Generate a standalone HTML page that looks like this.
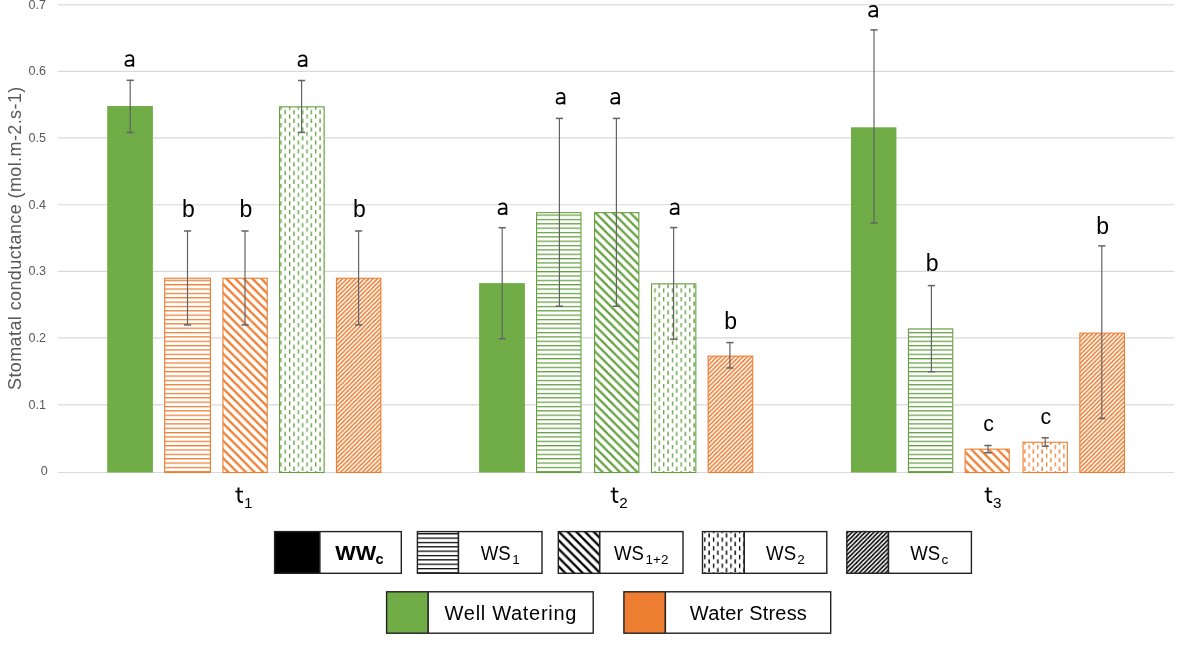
<!DOCTYPE html>
<html><head><meta charset="utf-8"><style>html,body{margin:0;padding:0;background:#fff;width:1181px;height:647px;overflow:hidden;position:relative;font-family:"Liberation Sans",sans-serif}</style></head><body>
<svg width="1181" height="647" viewBox="0 0 1181 647" style="position:absolute;left:0;top:0;will-change:transform">
<defs><pattern id="hzG" patternUnits="userSpaceOnUse" width="4" height="4" patternTransform="translate(0,1.35) scale(1.0875)"><rect x="0" y="-0.1" width="4" height="1.25" fill="#64A040"/></pattern><pattern id="wdG" patternUnits="userSpaceOnUse" width="8" height="8" patternTransform="translate(0,1.7) scale(1.0875)"><polygon points="0,0 3,0 8,5 8,8" fill="#64A040"/><polygon points="0,5 3,8 0,8" fill="#64A040"/></pattern><pattern id="dvG" patternUnits="userSpaceOnUse" width="8" height="8" patternTransform="translate(1.9,1.2) scale(1.0875)"><rect x="-0.1" y="0" width="1.3" height="4" fill="#64A040"/><rect x="3.9" y="4" width="1.3" height="4" fill="#64A040"/></pattern><pattern id="duG" patternUnits="userSpaceOnUse" width="4" height="4" patternTransform="translate(0,-1.8) scale(1.0875)"><polygon points="0,0 2,0 0,2" fill="#64A040"/><polygon points="4,0 4,2 2,4 0,4" fill="#64A040"/></pattern><pattern id="hzO" patternUnits="userSpaceOnUse" width="4" height="4" patternTransform="translate(0,1.35) scale(1.0875)"><rect x="0" y="-0.1" width="4" height="1.25" fill="#ED7D31"/></pattern><pattern id="wdO" patternUnits="userSpaceOnUse" width="8" height="8" patternTransform="translate(0,1.7) scale(1.0875)"><polygon points="0,0 3,0 8,5 8,8" fill="#ED7D31"/><polygon points="0,5 3,8 0,8" fill="#ED7D31"/></pattern><pattern id="dvO" patternUnits="userSpaceOnUse" width="8" height="8" patternTransform="translate(1.9,1.2) scale(1.0875)"><rect x="-0.1" y="0" width="1.3" height="4" fill="#ED7D31"/><rect x="3.9" y="4" width="1.3" height="4" fill="#ED7D31"/></pattern><pattern id="duO" patternUnits="userSpaceOnUse" width="4" height="4" patternTransform="translate(0,-1.8) scale(1.0875)"><polygon points="0,0 2,0 0,2" fill="#ED7D31"/><polygon points="4,0 4,2 2,4 0,4" fill="#ED7D31"/></pattern><pattern id="hzK" patternUnits="userSpaceOnUse" width="4" height="4" patternTransform="translate(0,-1.9) scale(1.0875)"><rect x="0" y="-0.1" width="4" height="1.25" fill="#000"/></pattern><pattern id="wdK" patternUnits="userSpaceOnUse" width="8" height="8" patternTransform="translate(0,0.6) scale(1.0875)"><polygon points="0,0 3,0 8,5 8,8" fill="#000"/><polygon points="0,5 3,8 0,8" fill="#000"/></pattern><pattern id="dvK" patternUnits="userSpaceOnUse" width="8" height="8" patternTransform="translate(-0.5,-1.9) scale(1.0875)"><rect x="-0.1" y="0" width="1.3" height="4" fill="#000"/><rect x="3.9" y="4" width="1.3" height="4" fill="#000"/></pattern><pattern id="duK" patternUnits="userSpaceOnUse" width="4" height="4" patternTransform="translate(0,0) scale(1.0875)"><polygon points="0,0 2,0 0,2" fill="#000"/><polygon points="4,0 4,2 2,4 0,4" fill="#000"/></pattern></defs>
<rect x="0" y="0" width="1181" height="647" fill="#fff"/>
<line x1="58" x2="1174" y1="472.50" y2="472.50" stroke="#D9D9D9" stroke-width="1.15"/>
<line x1="58" x2="1174" y1="404.90" y2="404.90" stroke="#D9D9D9" stroke-width="1.15"/>
<line x1="58" x2="1174" y1="337.90" y2="337.90" stroke="#D9D9D9" stroke-width="1.15"/>
<line x1="58" x2="1174" y1="271.40" y2="271.40" stroke="#D9D9D9" stroke-width="1.15"/>
<line x1="58" x2="1174" y1="204.70" y2="204.70" stroke="#D9D9D9" stroke-width="1.15"/>
<line x1="58" x2="1174" y1="137.90" y2="137.90" stroke="#D9D9D9" stroke-width="1.15"/>
<line x1="58" x2="1174" y1="71.40" y2="71.40" stroke="#D9D9D9" stroke-width="1.15"/>
<line x1="58" x2="1174" y1="4.80" y2="4.80" stroke="#D9D9D9" stroke-width="1.15"/>
<text x="47.8" y="475.10" text-anchor="end" font-family="Liberation Sans" font-size="12.6" fill="#595959">0</text>
<text x="46.0" y="408.80" text-anchor="end" font-family="Liberation Sans" font-size="12.6" fill="#595959">0.1</text>
<text x="46.0" y="341.80" text-anchor="end" font-family="Liberation Sans" font-size="12.6" fill="#595959">0.2</text>
<text x="46.0" y="275.30" text-anchor="end" font-family="Liberation Sans" font-size="12.6" fill="#595959">0.3</text>
<text x="46.0" y="208.60" text-anchor="end" font-family="Liberation Sans" font-size="12.6" fill="#595959">0.4</text>
<text x="46.0" y="141.80" text-anchor="end" font-family="Liberation Sans" font-size="12.6" fill="#595959">0.5</text>
<text x="46.0" y="75.30" text-anchor="end" font-family="Liberation Sans" font-size="12.6" fill="#595959">0.6</text>
<text x="46.0" y="8.70" text-anchor="end" font-family="Liberation Sans" font-size="12.6" fill="#595959">0.7</text>
<text transform="translate(21,390) rotate(-90)" x="0" y="0" font-family="Liberation Sans" font-size="18" letter-spacing="0.4" fill="#595959">Stomatal conductance (mol.m-2.s-1)</text>
<rect x="107.2" y="106.0" width="45.70" height="366.50" fill="#70AD47"/>
<rect x="164.1" y="277.7" width="46.90" height="194.80" fill="#fff"/>
<rect x="164.65" y="278.25" width="45.80" height="194.25" fill="url(#hzO)" stroke="#ED7D31" stroke-width="1.1"/>
<rect x="222.4" y="277.7" width="45.40" height="194.80" fill="#fff"/>
<rect x="222.95" y="278.25" width="44.30" height="194.25" fill="url(#wdO)" stroke="#ED7D31" stroke-width="1.1"/>
<rect x="279.0" y="106.3" width="45.70" height="366.20" fill="#fff"/>
<rect x="279.55" y="106.85" width="44.60" height="365.65" fill="url(#dvG)" stroke="#64A040" stroke-width="1.1"/>
<rect x="335.9" y="277.7" width="45.50" height="194.80" fill="#fff"/>
<rect x="336.45" y="278.25" width="44.40" height="194.25" fill="url(#duO)" stroke="#ED7D31" stroke-width="1.1"/>
<rect x="479.1" y="283.1" width="45.80" height="189.40" fill="#70AD47"/>
<rect x="536.0" y="212.1" width="45.50" height="260.40" fill="#fff"/>
<rect x="536.55" y="212.65" width="44.40" height="259.85" fill="url(#hzG)" stroke="#64A040" stroke-width="1.1"/>
<rect x="594.0" y="212.1" width="45.40" height="260.40" fill="#fff"/>
<rect x="594.55" y="212.65" width="44.30" height="259.85" fill="url(#wdG)" stroke="#64A040" stroke-width="1.1"/>
<rect x="651.0" y="283.3" width="45.40" height="189.20" fill="#fff"/>
<rect x="651.55" y="283.85" width="44.30" height="188.65" fill="url(#dvG)" stroke="#64A040" stroke-width="1.1"/>
<rect x="707.6" y="355.6" width="45.70" height="116.90" fill="#fff"/>
<rect x="708.15" y="356.15" width="44.60" height="116.35" fill="url(#duO)" stroke="#ED7D31" stroke-width="1.1"/>
<rect x="851.0" y="127.3" width="45.40" height="345.20" fill="#70AD47"/>
<rect x="907.9" y="328.4" width="45.40" height="144.10" fill="#fff"/>
<rect x="908.45" y="328.95" width="44.30" height="143.55" fill="url(#hzG)" stroke="#64A040" stroke-width="1.1"/>
<rect x="964.6" y="448.6" width="45.20" height="23.90" fill="#fff"/>
<rect x="965.15" y="449.15" width="44.10" height="23.35" fill="url(#wdO)" stroke="#ED7D31" stroke-width="1.1"/>
<rect x="1022.5" y="441.7" width="45.40" height="30.80" fill="#fff"/>
<rect x="1023.05" y="442.25" width="44.30" height="30.25" fill="url(#dvO)" stroke="#ED7D31" stroke-width="1.1"/>
<rect x="1079.3" y="332.6" width="45.70" height="139.90" fill="#fff"/>
<rect x="1079.85" y="333.15" width="44.60" height="139.35" fill="url(#duO)" stroke="#ED7D31" stroke-width="1.1"/>
<line x1="130.2" x2="130.2" y1="80.3" y2="132.5" stroke="#636363" stroke-width="1.2"/>
<line x1="126.60" x2="133.80" y1="80.3" y2="80.3" stroke="#636363" stroke-width="1.5"/>
<line x1="126.60" x2="133.80" y1="132.5" y2="132.5" stroke="#636363" stroke-width="1.5"/>
<path transform="translate(124.50,54.30)" d="M1.2 2.3 Q2.6 0.9 5.0 0.9 C7.7 0.9 8.8 2.2 8.8 4.7 V12.5 M8.8 6.2 H5.3 C2.1 6.2 0.9 7.6 0.9 9.2 C0.9 10.9 2.1 11.6 4.0 11.6 C6.0 11.6 7.7 10.8 8.8 9.4" fill="none" stroke="#000" stroke-width="1.75"/>
<line x1="187.5" x2="187.5" y1="231.0" y2="324.9" stroke="#636363" stroke-width="1.2"/>
<line x1="183.90" x2="191.10" y1="231.0" y2="231.0" stroke="#636363" stroke-width="1.5"/>
<line x1="183.90" x2="191.10" y1="324.9" y2="324.9" stroke="#636363" stroke-width="1.5"/>
<text x="188.30" y="217.20" text-anchor="middle" font-family="Liberation Sans" font-size="23" fill="#000">b</text>
<line x1="245.0" x2="245.0" y1="231.0" y2="324.9" stroke="#636363" stroke-width="1.2"/>
<line x1="241.40" x2="248.60" y1="231.0" y2="231.0" stroke="#636363" stroke-width="1.5"/>
<line x1="241.40" x2="248.60" y1="324.9" y2="324.9" stroke="#636363" stroke-width="1.5"/>
<text x="245.80" y="217.20" text-anchor="middle" font-family="Liberation Sans" font-size="23" fill="#000">b</text>
<line x1="301.6" x2="301.6" y1="80.5" y2="132.4" stroke="#636363" stroke-width="1.2"/>
<line x1="298.00" x2="305.20" y1="80.5" y2="80.5" stroke="#636363" stroke-width="1.5"/>
<line x1="298.00" x2="305.20" y1="132.4" y2="132.4" stroke="#636363" stroke-width="1.5"/>
<path transform="translate(297.65,54.50)" d="M1.2 2.3 Q2.6 0.9 5.0 0.9 C7.7 0.9 8.8 2.2 8.8 4.7 V12.5 M8.8 6.2 H5.3 C2.1 6.2 0.9 7.6 0.9 9.2 C0.9 10.9 2.1 11.6 4.0 11.6 C6.0 11.6 7.7 10.8 8.8 9.4" fill="none" stroke="#000" stroke-width="1.75"/>
<line x1="358.6" x2="358.6" y1="231.0" y2="324.9" stroke="#636363" stroke-width="1.2"/>
<line x1="355.00" x2="362.20" y1="231.0" y2="231.0" stroke="#636363" stroke-width="1.5"/>
<line x1="355.00" x2="362.20" y1="324.9" y2="324.9" stroke="#636363" stroke-width="1.5"/>
<text x="359.40" y="217.20" text-anchor="middle" font-family="Liberation Sans" font-size="23" fill="#000">b</text>
<line x1="502.2" x2="502.2" y1="227.7" y2="338.7" stroke="#636363" stroke-width="1.2"/>
<line x1="498.60" x2="505.80" y1="227.7" y2="227.7" stroke="#636363" stroke-width="1.5"/>
<line x1="498.60" x2="505.80" y1="338.7" y2="338.7" stroke="#636363" stroke-width="1.5"/>
<path transform="translate(497.65,202.50)" d="M1.2 2.3 Q2.6 0.9 5.0 0.9 C7.7 0.9 8.8 2.2 8.8 4.7 V12.5 M8.8 6.2 H5.3 C2.1 6.2 0.9 7.6 0.9 9.2 C0.9 10.9 2.1 11.6 4.0 11.6 C6.0 11.6 7.7 10.8 8.8 9.4" fill="none" stroke="#000" stroke-width="1.75"/>
<line x1="559.4" x2="559.4" y1="118.4" y2="306.2" stroke="#636363" stroke-width="1.2"/>
<line x1="555.80" x2="563.00" y1="118.4" y2="118.4" stroke="#636363" stroke-width="1.5"/>
<line x1="555.80" x2="563.00" y1="306.2" y2="306.2" stroke="#636363" stroke-width="1.5"/>
<path transform="translate(555.65,92.00)" d="M1.2 2.3 Q2.6 0.9 5.0 0.9 C7.7 0.9 8.8 2.2 8.8 4.7 V12.5 M8.8 6.2 H5.3 C2.1 6.2 0.9 7.6 0.9 9.2 C0.9 10.9 2.1 11.6 4.0 11.6 C6.0 11.6 7.7 10.8 8.8 9.4" fill="none" stroke="#000" stroke-width="1.75"/>
<line x1="616.4" x2="616.4" y1="118.4" y2="306.2" stroke="#636363" stroke-width="1.2"/>
<line x1="612.80" x2="620.00" y1="118.4" y2="118.4" stroke="#636363" stroke-width="1.5"/>
<line x1="612.80" x2="620.00" y1="306.2" y2="306.2" stroke="#636363" stroke-width="1.5"/>
<path transform="translate(610.25,92.00)" d="M1.2 2.3 Q2.6 0.9 5.0 0.9 C7.7 0.9 8.8 2.2 8.8 4.7 V12.5 M8.8 6.2 H5.3 C2.1 6.2 0.9 7.6 0.9 9.2 C0.9 10.9 2.1 11.6 4.0 11.6 C6.0 11.6 7.7 10.8 8.8 9.4" fill="none" stroke="#000" stroke-width="1.75"/>
<line x1="673.6" x2="673.6" y1="227.6" y2="339.2" stroke="#636363" stroke-width="1.2"/>
<line x1="670.00" x2="677.20" y1="227.6" y2="227.6" stroke="#636363" stroke-width="1.5"/>
<line x1="670.00" x2="677.20" y1="339.2" y2="339.2" stroke="#636363" stroke-width="1.5"/>
<path transform="translate(669.65,202.50)" d="M1.2 2.3 Q2.6 0.9 5.0 0.9 C7.7 0.9 8.8 2.2 8.8 4.7 V12.5 M8.8 6.2 H5.3 C2.1 6.2 0.9 7.6 0.9 9.2 C0.9 10.9 2.1 11.6 4.0 11.6 C6.0 11.6 7.7 10.8 8.8 9.4" fill="none" stroke="#000" stroke-width="1.75"/>
<line x1="729.9" x2="729.9" y1="342.6" y2="368.0" stroke="#636363" stroke-width="1.2"/>
<line x1="726.30" x2="733.50" y1="342.6" y2="342.6" stroke="#636363" stroke-width="1.5"/>
<line x1="726.30" x2="733.50" y1="368.0" y2="368.0" stroke="#636363" stroke-width="1.5"/>
<text x="730.70" y="328.80" text-anchor="middle" font-family="Liberation Sans" font-size="23" fill="#000">b</text>
<line x1="874.0" x2="874.0" y1="29.9" y2="223.0" stroke="#636363" stroke-width="1.2"/>
<line x1="870.40" x2="877.60" y1="29.9" y2="29.9" stroke="#636363" stroke-width="1.5"/>
<line x1="870.40" x2="877.60" y1="223.0" y2="223.0" stroke="#636363" stroke-width="1.5"/>
<path transform="translate(868.25,4.90)" d="M1.2 2.3 Q2.6 0.9 5.0 0.9 C7.7 0.9 8.8 2.2 8.8 4.7 V12.5 M8.8 6.2 H5.3 C2.1 6.2 0.9 7.6 0.9 9.2 C0.9 10.9 2.1 11.6 4.0 11.6 C6.0 11.6 7.7 10.8 8.8 9.4" fill="none" stroke="#000" stroke-width="1.75"/>
<line x1="931.4" x2="931.4" y1="285.6" y2="371.7" stroke="#636363" stroke-width="1.2"/>
<line x1="927.80" x2="935.00" y1="285.6" y2="285.6" stroke="#636363" stroke-width="1.5"/>
<line x1="927.80" x2="935.00" y1="371.7" y2="371.7" stroke="#636363" stroke-width="1.5"/>
<text x="932.20" y="271.30" text-anchor="middle" font-family="Liberation Sans" font-size="23" fill="#000">b</text>
<line x1="988.0" x2="988.0" y1="445.5" y2="452.8" stroke="#636363" stroke-width="1.2"/>
<line x1="984.40" x2="991.60" y1="445.5" y2="445.5" stroke="#636363" stroke-width="1.5"/>
<line x1="984.40" x2="991.60" y1="452.8" y2="452.8" stroke="#636363" stroke-width="1.5"/>
<text transform="translate(988.70,430.90) scale(0.93,0.95)" text-anchor="middle" font-family="Liberation Sans" font-size="23" fill="#000">c</text>
<line x1="1045.2" x2="1045.2" y1="437.8" y2="446.2" stroke="#636363" stroke-width="1.2"/>
<line x1="1041.60" x2="1048.80" y1="437.8" y2="437.8" stroke="#636363" stroke-width="1.5"/>
<line x1="1041.60" x2="1048.80" y1="446.2" y2="446.2" stroke="#636363" stroke-width="1.5"/>
<text transform="translate(1045.90,423.70) scale(0.93,0.95)" text-anchor="middle" font-family="Liberation Sans" font-size="23" fill="#000">c</text>
<line x1="1101.8" x2="1101.8" y1="245.9" y2="418.5" stroke="#636363" stroke-width="1.2"/>
<line x1="1098.20" x2="1105.40" y1="245.9" y2="245.9" stroke="#636363" stroke-width="1.5"/>
<line x1="1098.20" x2="1105.40" y1="418.5" y2="418.5" stroke="#636363" stroke-width="1.5"/>
<text x="1102.60" y="234.00" text-anchor="middle" font-family="Liberation Sans" font-size="23" fill="#000">b</text>
<path d="M238.50 487.6 V498.6 Q238.50 502.1 241.50 502.1 H243.00" fill="none" stroke="#000" stroke-width="1.95"/>
<path d="M235.40 491.6 H243.00" fill="none" stroke="#000" stroke-width="1.6"/>
<text x="243.90" y="508.1" font-family="Liberation Sans" font-size="15.3" fill="#000">1</text>
<path d="M613.80 487.6 V498.6 Q613.80 502.1 616.80 502.1 H618.30" fill="none" stroke="#000" stroke-width="1.95"/>
<path d="M610.70 491.6 H618.30" fill="none" stroke="#000" stroke-width="1.6"/>
<text x="619.20" y="508.1" font-family="Liberation Sans" font-size="15.3" fill="#000">2</text>
<path d="M987.70 487.6 V498.6 Q987.70 502.1 990.70 502.1 H992.20" fill="none" stroke="#000" stroke-width="1.95"/>
<path d="M984.60 491.6 H992.20" fill="none" stroke="#000" stroke-width="1.6"/>
<text x="993.10" y="508.1" font-family="Liberation Sans" font-size="15.3" fill="#000">3</text>
<rect x="274.6" y="531.6" width="45.20" height="41.70" fill="#000"/><rect x="274.6" y="531.6" width="126.70" height="41.70" fill="none" stroke="#222" stroke-width="1.4"/><line x1="319.8" x2="319.8" y1="531.6" y2="573.3" stroke="#222" stroke-width="1.6"/>
<rect x="417.4" y="531.6" width="41.00" height="41.70" fill="url(#hzK)"/><rect x="417.4" y="531.6" width="124.60" height="41.70" fill="none" stroke="#222" stroke-width="1.4"/><line x1="458.4" x2="458.4" y1="531.6" y2="573.3" stroke="#222" stroke-width="1.6"/>
<rect x="558.3" y="531.6" width="41.40" height="41.70" fill="url(#wdK)"/><rect x="558.3" y="531.6" width="124.70" height="41.70" fill="none" stroke="#222" stroke-width="1.4"/><line x1="599.7" x2="599.7" y1="531.6" y2="573.3" stroke="#222" stroke-width="1.6"/>
<rect x="702.5" y="531.6" width="41.70" height="41.70" fill="url(#dvK)"/><rect x="702.5" y="531.6" width="124.30" height="41.70" fill="none" stroke="#222" stroke-width="1.4"/><line x1="744.2" x2="744.2" y1="531.6" y2="573.3" stroke="#222" stroke-width="1.6"/>
<rect x="846.8" y="531.6" width="41.60" height="41.70" fill="url(#duK)"/><rect x="846.8" y="531.6" width="124.60" height="41.70" fill="none" stroke="#222" stroke-width="1.4"/><line x1="888.4" x2="888.4" y1="531.6" y2="573.3" stroke="#222" stroke-width="1.6"/>
<text transform="translate(335.2,559.5) scale(1.075,1)" font-family="Liberation Sans" font-size="20.2" font-weight="bold" fill="#000">WW</text>
<text x="375.6" y="564.1" font-family="Liberation Sans" font-size="14.6" font-weight="bold" fill="#000">c</text>
<text transform="translate(480.7,559.8) scale(0.93,1)" font-family="Liberation Sans" font-size="20" fill="#000">WS</text>
<text x="512.3" y="563.8" font-family="Liberation Sans" font-size="13.5" fill="#000">1</text>
<text transform="translate(613.9,559.8) scale(0.93,1)" font-family="Liberation Sans" font-size="20" fill="#000">WS</text>
<text x="645.6" y="563.8" font-family="Liberation Sans" font-size="13.5" fill="#000">1+2</text>
<text transform="translate(766.1,559.8) scale(0.93,1)" font-family="Liberation Sans" font-size="20" fill="#000">WS</text>
<text x="797.3" y="563.8" font-family="Liberation Sans" font-size="13.5" fill="#000">2</text>
<text transform="translate(910.3,559.8) scale(0.93,1)" font-family="Liberation Sans" font-size="20" fill="#000">WS</text>
<text x="941.5" y="563.8" font-family="Liberation Sans" font-size="13.5" fill="#000">c</text>
<rect x="386.6" y="591.8" width="41.50" height="41.40" fill="#70AD47"/><rect x="386.6" y="591.8" width="206.60" height="41.40" fill="none" stroke="#222" stroke-width="1.4"/><line x1="428.1" x2="428.1" y1="591.8" y2="633.2" stroke="#222" stroke-width="1.6"/>
<rect x="623.9" y="591.8" width="41.40" height="41.40" fill="#ED7D31"/><rect x="623.9" y="591.8" width="206.80" height="41.40" fill="none" stroke="#222" stroke-width="1.4"/><line x1="665.3" x2="665.3" y1="591.8" y2="633.2" stroke="#222" stroke-width="1.6"/>
<text x="444.6" y="619.8" font-family="Liberation Sans" font-size="20" letter-spacing="0.7" fill="#000">Well Watering</text>
<text x="689.8" y="619.8" font-family="Liberation Sans" font-size="20" letter-spacing="0.2" fill="#000">Water Stress</text>
</svg>
</body></html>
